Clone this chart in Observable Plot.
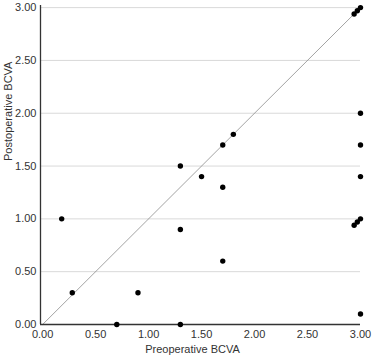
<!DOCTYPE html>
<html>
<head>
<meta charset="utf-8">
<script src="https://cdn.jsdelivr.net/npm/d3@7"></script>
<script src="https://cdn.jsdelivr.net/npm/@observablehq/plot@0.6"></script>
<style>
  html, body { margin: 0; padding: 0; background: #fff; }
  #chart svg { display: block; }
</style>
</head>
<body>
<div id="chart"></div>
<script>
const preoperative  = [0.18, 0.28, 0.70, 0.90, 1.30, 1.30, 1.30, 1.50, 1.70, 1.70, 1.70, 1.80, 3.00, 3.00, 3.00, 3.00, 2.94, 2.97, 3.00, 2.94, 2.97, 3.00];
const postoperative = [1.00, 0.30, 0.00, 0.30, 1.50, 0.90, 0.00, 1.40, 1.70, 1.30, 0.60, 1.80, 2.00, 1.70, 1.40, 0.10, 2.94, 2.97, 3.00, 0.94, 0.97, 1.00];
const tickValues = [0, 0.5, 1, 1.5, 2, 2.5, 3];
const referenceLine = [[0, 0], [3, 3]];
const xLabel = "Preoperative BCVA";
const yLabel = "Postoperative BCVA";

const points = preoperative.map((x, i) => ({x, y: postoperative[i]}));
const fmt = d3.format(".2f");

const chart = Plot.plot({
  width: 373,
  height: 359,
  marginLeft: 40,
  marginRight: 13,
  marginTop: 5,
  marginBottom: 35,
  style: {fontFamily: "'Liberation Sans', Arial, sans-serif", fontSize: "11px", color: "#333", background: "#fff"},
  x: {domain: [-0.02, 3.0]},
  y: {domain: [0, 3.02]},
  marks: [
    Plot.ruleY(tickValues, {stroke: "#d9d9d9", strokeWidth: 1}),
    Plot.line(referenceLine, {x: d => d[0], y: d => d[1], stroke: "#8c8c8c", strokeWidth: 0.8}),
    Plot.ruleY([0], {stroke: "#333", strokeWidth: 1.3}),
    Plot.ruleX([-0.02], {stroke: "#333", strokeWidth: 1.3}),
    Plot.axisX(tickValues, {tickSize: 0, tickPadding: 6, tickFormat: fmt, fontSize: 11, fill: "#333", label: null}),
    Plot.axisY(tickValues, {tickSize: 0, tickPadding: 4, tickFormat: fmt, fontSize: 11, fill: "#333", label: null}),
    Plot.text([xLabel], {frameAnchor: "bottom", text: d => d, dy: 28, dx: -8, fontSize: 11, fill: "#333"}),
    Plot.text([yLabel], {frameAnchor: "left", text: d => d, rotate: -90, dx: -32, dy: -4, fontSize: 11, fill: "#333"}),
    Plot.dot(points, {x: "x", y: "y", r: 2.7, fill: "#000", stroke: "none"})
  ]
});
document.getElementById("chart").appendChild(chart);
</script>
</body>
</html>
